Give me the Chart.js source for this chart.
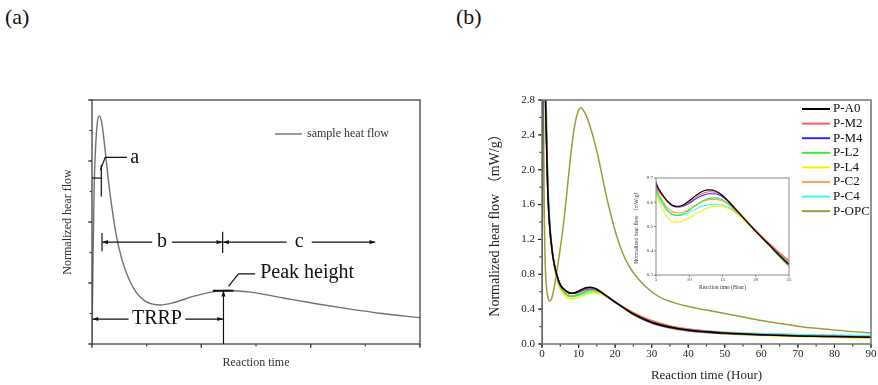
<!DOCTYPE html>
<html lang="en">
<head>
<meta charset="utf-8">
<title>Heat flow curves</title>
<script src="https://cdn.jsdelivr.net/npm/chart.js@4.4.1/dist/chart.umd.min.js"></script>
<style>
  html, body { margin: 0; padding: 0; background: #fff; }
  body { position: relative; width: 878px; height: 385px; overflow: hidden; font-family: 'Liberation Serif', 'Times New Roman', serif; }
  canvas { position: absolute; }
  .tag { position: absolute; top: 5px; font-size: 22px; line-height: 24px; color: #111; }
</style>
</head>
<body>
<div class="tag" style="left:5px">(a)</div>
<div class="tag" style="left:456px">(b)</div>
<canvas id="chartA" width="440" height="385" style="left:0;top:0"></canvas>
<canvas id="chartB" width="438" height="385" style="left:440px;top:0"></canvas>
<canvas id="chartInset" width="175" height="125" style="left:620px;top:170px"></canvas>
<script>
// --- DATA ---

// (a) schematic heat flow curve
const timeA = [0, 0.02, 0.04, 0.07, 0.10, 0.134, 0.18, 0.24, 0.30, 0.37, 0.45, 0.55, 0.65, 0.8, 1.0, 1.25, 1.5, 1.85, 2.2, 2.5, 2.9, 3.5, 4.1, 4.7, 5.3, 6.0];
const flowA = [0, 1.5, 2.6, 3.3, 3.65, 3.74, 3.62, 3.18, 2.68, 2.2, 1.75, 1.38, 1.12, 0.86, 0.69, 0.64, 0.68, 0.78, 0.855, 0.878, 0.85, 0.755, 0.66, 0.575, 0.5, 0.43];

// (b) measured heat flow (mW/g) vs hours
const hoursMix = [0, 0.3, 1, 1.5, 2, 3, 4, 5, 6, 7, 8, 9, 10, 11, 12, 13, 14, 15, 16, 17, 18, 19, 20, 22, 25, 30, 35, 40, 50, 60, 70, 80, 90];
const flowA0 = [0, 4.6, 2.7, 1.85, 1.4, 1.0, 0.8, 0.678, 0.630, 0.597, 0.583, 0.588, 0.606, 0.628, 0.645, 0.651, 0.645, 0.628, 0.600, 0.570, 0.540, 0.510, 0.480, 0.425, 0.345, 0.25, 0.195, 0.16, 0.125, 0.105, 0.093, 0.085, 0.078];
const flowM2 = [0, 4.6, 2.7, 1.85, 1.4, 1.0, 0.79, 0.670, 0.625, 0.595, 0.582, 0.585, 0.600, 0.620, 0.636, 0.643, 0.641, 0.628, 0.604, 0.574, 0.543, 0.513, 0.484, 0.430, 0.358, 0.265, 0.205, 0.168, 0.128, 0.106, 0.094, 0.086, 0.079];
const flowM4 = [0, 4.6, 2.75, 1.9, 1.42, 1.0, 0.8, 0.682, 0.630, 0.596, 0.581, 0.583, 0.596, 0.614, 0.628, 0.635, 0.634, 0.623, 0.600, 0.571, 0.540, 0.510, 0.480, 0.423, 0.340, 0.24, 0.185, 0.152, 0.12, 0.103, 0.093, 0.086, 0.08];
const flowL2 = [0, 4.8, 3.0, 2.0, 1.45, 1.0, 0.78, 0.655, 0.598, 0.560, 0.546, 0.551, 0.567, 0.587, 0.605, 0.616, 0.618, 0.610, 0.592, 0.568, 0.540, 0.511, 0.482, 0.427, 0.350, 0.258, 0.2, 0.165, 0.128, 0.108, 0.096, 0.088, 0.082];
const flowL4 = [0, 4.6, 2.8, 1.9, 1.4, 0.97, 0.75, 0.635, 0.570, 0.530, 0.518, 0.522, 0.536, 0.552, 0.568, 0.578, 0.584, 0.583, 0.573, 0.555, 0.531, 0.505, 0.478, 0.420, 0.333, 0.24, 0.18, 0.148, 0.115, 0.097, 0.085, 0.075, 0.068];
const flowC2 = [0, 4.6, 2.8, 1.9, 1.42, 1.0, 0.78, 0.662, 0.606, 0.570, 0.556, 0.559, 0.572, 0.589, 0.603, 0.611, 0.612, 0.605, 0.588, 0.564, 0.538, 0.511, 0.484, 0.432, 0.360, 0.27, 0.21, 0.172, 0.13, 0.108, 0.095, 0.086, 0.08];
const flowC4 = [0, 4.8, 3.1, 2.05, 1.5, 1.02, 0.78, 0.645, 0.590, 0.556, 0.545, 0.548, 0.559, 0.572, 0.584, 0.591, 0.593, 0.589, 0.578, 0.560, 0.537, 0.512, 0.486, 0.430, 0.345, 0.255, 0.2, 0.168, 0.138, 0.12, 0.11, 0.103, 0.097];

const hoursOPC = [0, 0.15, 0.4, 0.6, 0.9, 1.3, 1.7, 2.1, 2.6, 3, 4, 5, 6, 7, 8, 9, 10, 10.6, 11.5, 12.5, 13.5, 14.5, 15.5, 16.5, 17.5, 18.5, 20, 22, 24, 26.7, 30, 33, 36, 40, 45, 50, 55, 60, 65, 70, 75, 80, 85, 90];
const flowOPC = [0, 5.0, 2.8, 1.6, 0.9, 0.62, 0.52, 0.49, 0.52, 0.58, 0.82, 1.1, 1.42, 1.82, 2.22, 2.52, 2.68, 2.71, 2.67, 2.58, 2.45, 2.3, 2.12, 1.92, 1.72, 1.54, 1.3, 1.05, 0.88, 0.73, 0.6, 0.52, 0.475, 0.43, 0.39, 0.35, 0.31, 0.27, 0.235, 0.205, 0.18, 0.16, 0.142, 0.127];

const seriesNames = ['P-A0', 'P-M2', 'P-M4', 'P-L2', 'P-L4', 'P-C2', 'P-C4', 'P-OPC'];
const seriesFlows = [flowA0, flowM2, flowM4, flowL2, flowL4, flowC2, flowC4, flowOPC];
const seriesHours = [hoursMix, hoursMix, hoursMix, hoursMix, hoursMix, hoursMix, hoursMix, hoursOPC];
const seriesColors = ['#000000', '#ff5a5a', '#2b2bff', '#3ee63e', '#f2f200', '#ffa060', '#40f5f5', '#9c9c34'];

// annotation marks of panel (a), in axis units
const noteLines = [
    [[0, 2.72], [0.17, 2.72]],
    [[0.17, 2.94], [0.17, 2.42]],
    [[0.152, 2.85], [0.243, 3.06], [0.64, 3.06]],
    [[0.183, 1.82], [0.183, 1.52]],
    [[2.39, 1.84], [2.39, 1.49]],
    [[2.497, 0.943], [2.68, 1.151], [2.984, 1.151]]
];
const noteArrows = [
    [[1.1, 1.67], [0.19, 1.67]],
    [[1.46, 1.67], [2.38, 1.67]],
    [[3.56, 1.67], [2.40, 1.67]],
    [[4.02, 1.67], [5.18, 1.67]],
    [[0.669, 0.409], [0.01, 0.409]],
    [[1.705, 0.409], [2.395, 0.409]],
    [[2.405, 0], [2.405, 0.873]]
];
const noteTexts = [
    ['a', [0.70, 3.06], 'left'],
    ['b', [1.28, 1.67], 'center'],
    ['c', [3.79, 1.67], 'center'],
    ['Peak height', [3.076, 1.162], 'left'],
    ['TRRP', [1.188, 0.409], 'center']
];

// --- DRAWING ---
const serif = "'Liberation Serif', 'Times New Roman', 'Noto Sans CJK SC', serif";

// closed box + major / minor tick marks
const boxPlugin = {
    id: 'box',
    afterDraw(chart, args, opts) {
        const { ctx, chartArea: a } = chart;
        ctx.save();
        ctx.strokeStyle = opts.tickColor;
        ctx.lineWidth = opts.tickWidth;
        ['x', 'y'].forEach(id => {
            const s = chart.scales[id];
            [[opts[id + 'Minor'], opts.minorLen], [opts[id + 'Major'], opts.majorLen]].forEach(([step, len]) => {
                if (!step || !len) return;
                const n = Math.round((s.max - s.min) / step);
                for (let i = 0; i <= n; i++) {
                    const p = s.getPixelForValue(s.min + i * step);
                    ctx.beginPath();
                    if (id === 'x') { ctx.moveTo(p, a.bottom); ctx.lineTo(p, a.bottom + len); }
                    else { ctx.moveTo(a.left, p); ctx.lineTo(a.left - len, p); }
                    ctx.stroke();
                }
            });
        });
        ctx.strokeStyle = opts.color;
        ctx.lineWidth = opts.width;
        ctx.strokeRect(a.left, a.top, a.width, a.height);
        ctx.restore();
    }
};

// annotations + legend of panel (a)
const notesPlugin = {
    id: 'notesA',
    afterDraw(chart) {
        const { ctx, chartArea: a, scales: { x, y } } = chart;
        const px = p => [x.getPixelForValue(p[0]), y.getPixelForValue(p[1])];
        ctx.save();
        ctx.strokeStyle = '#111';
        ctx.fillStyle = '#111';
        ctx.lineWidth = 1.2;
        noteLines.forEach(path => {
            ctx.beginPath();
            path.forEach((p, i) => { const [X, Y] = px(p); if (i) ctx.lineTo(X, Y); else ctx.moveTo(X, Y); });
            ctx.stroke();
        });
        noteArrows.forEach(([from, to]) => {
            const [x0, y0] = px(from), [x1, y1] = px(to);
            const ang = Math.atan2(y1 - y0, x1 - x0);
            ctx.beginPath(); ctx.moveTo(x0, y0); ctx.lineTo(x1, y1); ctx.stroke();
            ctx.beginPath();
            ctx.moveTo(x1, y1);
            ctx.lineTo(x1 - 6 * Math.cos(ang - 0.35), y1 - 6 * Math.sin(ang - 0.35));
            ctx.lineTo(x1 - 6 * Math.cos(ang + 0.35), y1 - 6 * Math.sin(ang + 0.35));
            ctx.closePath();
            ctx.fill();
        });
        // peak marker
        ctx.lineWidth = 2;
        ctx.beginPath();
        let [pxA, pyA] = px([2.211, 0.873]), [pxB] = px([2.588, 0.873]);
        ctx.moveTo(pxA, pyA); ctx.lineTo(pxB, pyA); ctx.stroke();

        ctx.font = `20px ${serif}`;
        ctx.textBaseline = 'middle';
        noteTexts.forEach(([t, p, align]) => { const [X, Y] = px(p); ctx.textAlign = align; ctx.fillText(t, X, Y); });

        // legend
        const ds = chart.data.datasets[0];
        const ly = a.top + 34;
        ctx.strokeStyle = ds.borderColor;
        ctx.lineWidth = 1.4;
        ctx.beginPath(); ctx.moveTo(a.left + 183, ly); ctx.lineTo(a.left + 210, ly); ctx.stroke();
        ctx.font = `12px ${serif}`;
        ctx.fillStyle = '#333';
        ctx.textAlign = 'left';
        ctx.fillText(ds.label, a.left + 215, ly);
        ctx.restore();
    }
};

// legend of panel (b)
const keyPlugin = {
    id: 'keyB',
    afterDraw(chart) {
        const { ctx, chartArea: a } = chart;
        ctx.save();
        ctx.font = `13px ${serif}`;
        ctx.textBaseline = 'middle';
        ctx.textAlign = 'left';
        ctx.fillStyle = '#111';
        chart.data.datasets.forEach((ds, i) => {
            const y = a.top + 9 + i * 14.6;
            ctx.strokeStyle = ds.borderColor;
            ctx.lineWidth = 2;
            ctx.beginPath(); ctx.moveTo(a.right - 69, y); ctx.lineTo(a.right - 41, y); ctx.stroke();
            ctx.fillText(ds.label, a.right - 38, y);
        });
        ctx.restore();
    }
};

function makeSets(width) {
    return seriesNames.map((name, i) => ({
        label: name,
        data: seriesHours[i].map((h, j) => ({ x: h, y: seriesFlows[i][j] })),
        borderColor: seriesColors[i],
        borderWidth: width,
        pointRadius: 0,
        cubicInterpolationMode: 'monotone',
        fill: false
    }));
}

// 1. Panel (a)
new Chart(document.getElementById('chartA'), {
    type: 'line',
    data: {
        datasets: [{
            label: 'sample heat flow',
            data: timeA.map((t, i) => ({ x: t, y: flowA[i] })),
            borderColor: '#707070',
            borderWidth: 1.4,
            pointRadius: 0,
            cubicInterpolationMode: 'monotone',
            fill: false
        }]
    },
    options: {
        responsive: false,
        animation: false,
        events: [],
        layout: { padding: { top: 100, right: 20, bottom: 0, left: 0 } },
        plugins: {
            legend: { display: false },
            tooltip: { enabled: false },
            box: { color: '#444', width: 1.3, tickColor: '#444', tickWidth: 1.2, xMajor: 2, xMinor: 1, yMajor: 1, yMinor: 0.5, majorLen: 4, minorLen: 2.5 }
        },
        scales: {
            x: {
                type: 'linear', min: 0, max: 6,
                grid: { display: false, drawTicks: false },
                border: { display: false },
                ticks: { display: false },
                title: { display: true, text: 'Reaction time', font: { family: serif, size: 12 }, color: '#333', padding: { top: 0, bottom: 15 } },
                afterFit: s => { s.height = 41; }
            },
            y: {
                type: 'linear', min: 0, max: 4,
                grid: { display: false, drawTicks: false },
                border: { display: false },
                ticks: { display: false },
                title: { display: true, text: 'Normalized hear flow', font: { family: serif, size: 12 }, color: '#333', padding: { top: 61, bottom: 0 } },
                afterFit: s => { s.width = 92; }
            }
        }
    },
    plugins: [boxPlugin, notesPlugin]
});

// 2. Panel (b)
new Chart(document.getElementById('chartB'), {
    type: 'line',
    data: { datasets: makeSets(1.5) },
    options: {
        responsive: false,
        animation: false,
        events: [],
        layout: { padding: { top: 100, right: 7, bottom: 0, left: 0 } },
        plugins: {
            legend: { display: false },
            tooltip: { enabled: false },
            box: { color: '#7a7a7a', width: 1.6, tickColor: '#222', tickWidth: 1.1, xMajor: 10, xMinor: 5, yMajor: 0.4, yMinor: 0.2, majorLen: 4, minorLen: 2.5 }
        },
        scales: {
            x: {
                type: 'linear', min: 0, max: 90,
                grid: { display: false, drawTicks: true, tickLength: 4 },
                border: { display: false },
                ticks: { stepSize: 10, padding: 0, maxRotation: 0, font: { family: serif, size: 11 }, color: '#222' },
                title: { display: true, text: 'Reaction time (Hour)', font: { family: serif, size: 13 }, color: '#222', padding: { top: 0, bottom: 2 } },
                afterFit: s => { s.height = 41; }
            },
            y: {
                type: 'linear', min: 0, max: 2.8,
                grid: { display: false, drawTicks: true, tickLength: 4 },
                border: { display: false },
                ticks: { stepSize: 0.4, padding: 3, font: { family: serif, size: 11 }, color: '#222', callback: v => v.toFixed(1) },
                title: { display: true, text: 'Normalized hear flow （mW/g）', font: { family: serif, size: 14 }, color: '#222', padding: { top: 47, bottom: 0 } },
                afterFit: s => { s.width = 102; }
            }
        }
    },
    plugins: [boxPlugin, keyPlugin]
});

// 3. Inset of panel (b)
new Chart(document.getElementById('chartInset'), {
    type: 'line',
    data: { datasets: makeSets(1.1).slice(0, 7) },
    options: {
        responsive: false,
        animation: false,
        events: [],
        layout: { padding: { top: 8, right: 6, bottom: 0, left: 0 } },
        plugins: {
            legend: { display: false },
            tooltip: { enabled: false },
            box: { color: '#8a8a8a', width: 1, tickColor: '#666', tickWidth: 0.8, xMajor: 5, yMajor: 0.1, majorLen: 2, minorLen: 0 }
        },
        scales: {
            x: {
                type: 'linear', min: 5, max: 25,
                grid: { display: false, drawTicks: true, tickLength: 2 },
                border: { display: false },
                ticks: { stepSize: 5, padding: 0, maxRotation: 0, font: { family: serif, size: 5 }, color: '#333' },
                title: { display: true, text: 'Reaction time (Hour)', font: { family: serif, size: 5.5 }, color: '#333', padding: { top: 0, bottom: 4 } },
                afterFit: s => { s.height = 20; }
            },
            y: {
                type: 'linear', min: 0.3, max: 0.7,
                grid: { display: false, drawTicks: true, tickLength: 2 },
                border: { display: false },
                ticks: { stepSize: 0.1, padding: 1, font: { family: serif, size: 5 }, color: '#333', callback: v => v.toFixed(1) },
                title: { display: true, text: 'Normalized hear flow （mW/g）', font: { family: serif, size: 5.5 }, color: '#333', padding: { top: 13, bottom: 0 } },
                afterFit: s => { s.width = 36; }
            }
        }
    },
    plugins: [boxPlugin]
});
</script>
</body>
</html>
